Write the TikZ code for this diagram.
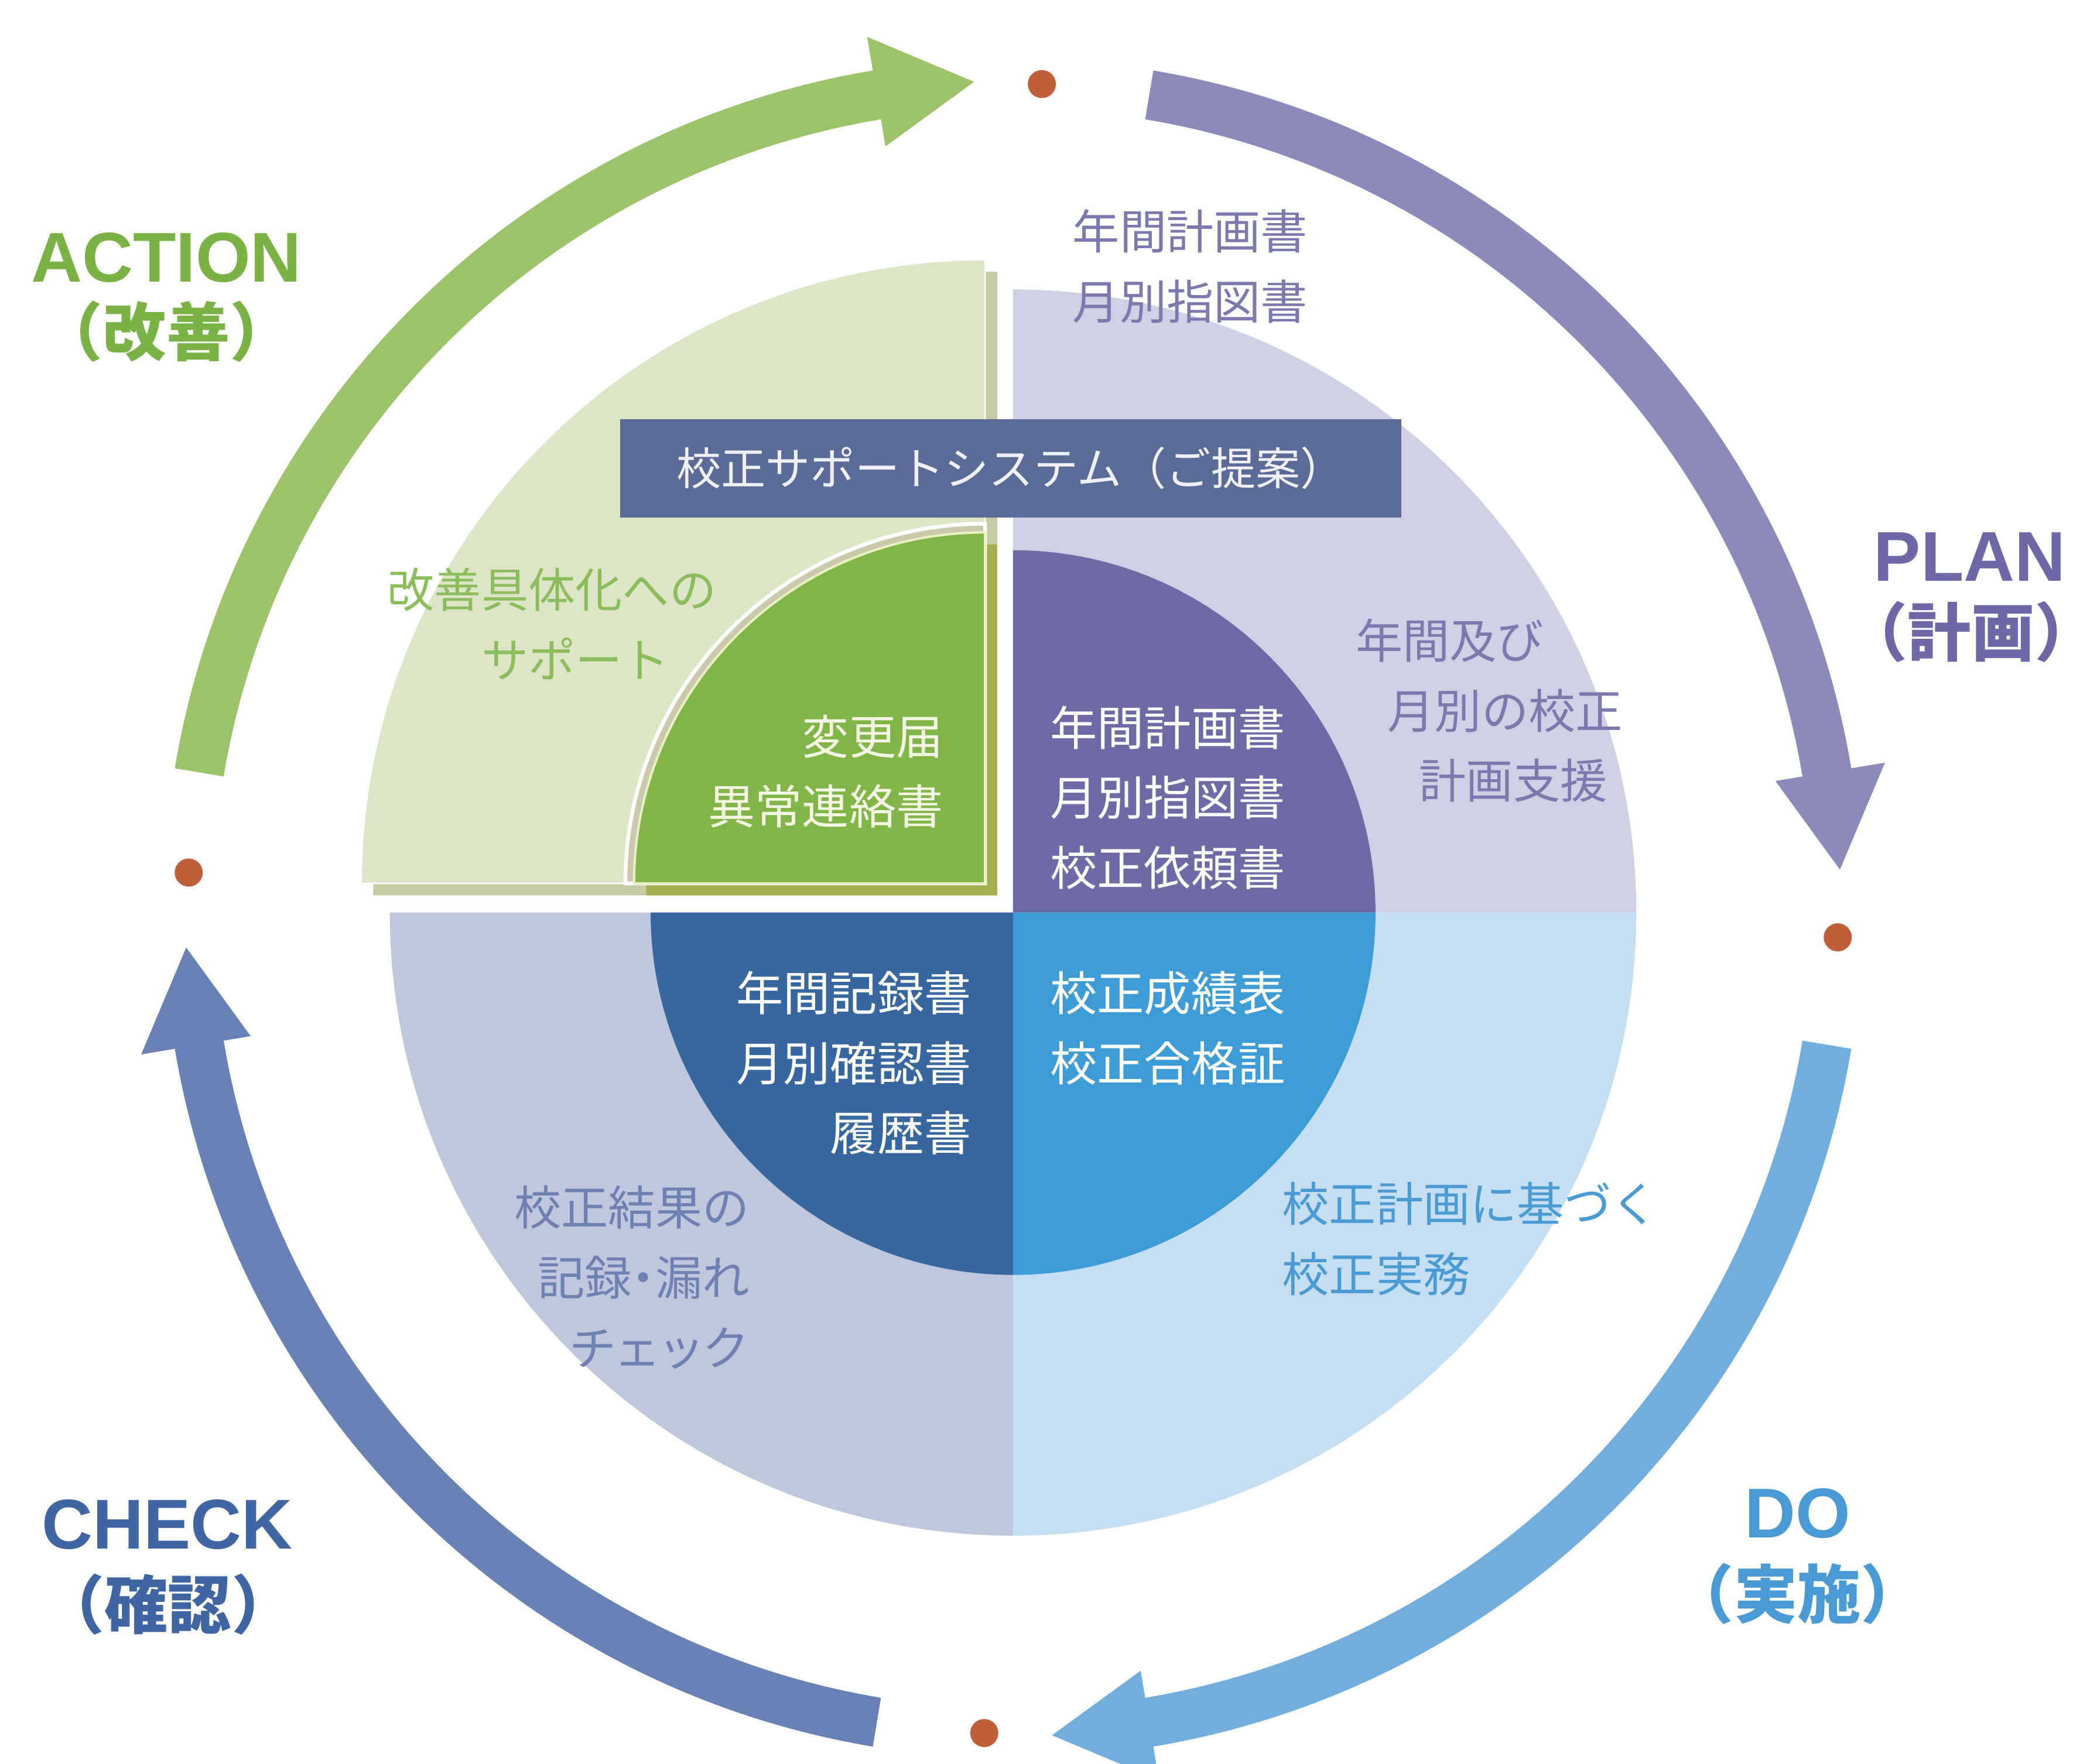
\documentclass[tikz,border=0pt]{standalone}
\usepackage{fontspec}
\setmainfont{Noto Sans CJK JP}
\newfontfamily\latinfont{Liberation Sans}
\usepackage{tikz}
\usetikzlibrary{positioning}
\definecolor{planlight}{HTML}{CFD0E4}
\definecolor{plandark}{HTML}{6E6AA6}
\definecolor{dolight}{HTML}{C5DEF2}
\definecolor{dodark}{HTML}{3D9CD5}
\definecolor{checklight}{HTML}{BEC7DC}
\definecolor{checkdark}{HTML}{38679F}
\definecolor{actlight}{HTML}{DCE6C6}
\definecolor{actshade}{HTML}{C6CBA4}
\definecolor{actdark}{HTML}{82B547}
\definecolor{actdarkshade}{HTML}{A5AF4F}
\definecolor{actbevel}{HTML}{CBC8AB}
\definecolor{actedge}{HTML}{E9F0C4}
\definecolor{bannerc}{HTML}{5A6B98}
\definecolor{bannertext}{HTML}{EEF0F5}
\definecolor{actarrowc}{HTML}{9DC36A}
\definecolor{planarrowc}{HTML}{8C89BB}
\definecolor{doarrowc}{HTML}{72AEDD}
\definecolor{checkarrowc}{HTML}{6981B5}
\definecolor{acttext}{HTML}{7AB246}
\definecolor{plantext}{HTML}{6E69A6}
\definecolor{dotext}{HTML}{4899D4}
\definecolor{checktext}{HTML}{3F66A2}
\definecolor{actsoft}{HTML}{8CBD5C}
\definecolor{plansoft}{HTML}{7C79AF}
\definecolor{dosoft}{HTML}{4A9AD4}
\definecolor{checksoft}{HTML}{6E81B2}
\definecolor{actinner}{HTML}{F2F6E2}
\definecolor{dotc}{HTML}{C0603A}
\tikzset{
  txt/.style={inner sep=0pt, font=\fontsize{10}{14.9}\selectfont},
  wtxt/.style={txt, text=white},
  phase/.style={inner sep=0pt, font=\latinfont\bfseries\fontsize{15}{18}\selectfont},
  phasejp/.style={inner sep=0pt, font=\bfseries\fontsize{13.5}{16}\selectfont},
  dot/.style={circle, fill=dotc, inner sep=0pt, minimum size=0.21cm},
  banner/.style={fill=bannerc, text=bannertext, inner sep=0pt,
    minimum width=5.845cm, minimum height=0.735cm, font=\fontsize{9.5}{12}\selectfont},
}
\begin{document}
\begin{tikzpicture}
  \useasboundingbox (-7.575,-6.365) rectangle (8.105,6.825);
  \def\ro{4.66}
  \def\ri{2.71}
  % quadrants: plan, do, check
  \fill[planlight] (0,0) -- (90:\ro) arc[start angle=90, end angle=0, radius=\ro] -- cycle;
  \fill[dolight] (0,0) -- (0:\ro) arc[start angle=0, end angle=-90, radius=\ro] -- cycle;
  \fill[checklight] (0,0) -- (-90:\ro) arc[start angle=-90, end angle=-180, radius=\ro] -- cycle;
  \fill[plandark] (0,0) -- (90:\ri) arc[start angle=90, end angle=0, radius=\ri] -- cycle;
  \fill[dodark] (0,0) -- (0:\ri) arc[start angle=0, end angle=-90, radius=\ri] -- cycle;
  \fill[checkdark] (0,0) -- (-90:\ri) arc[start angle=-90, end angle=-180, radius=\ri] -- cycle;
  % action quadrant, lifted with shadow
  \begin{scope}[shift={(-0.209,0.218)}]
    \fill[actshade] (0.09,-0.09) -- ++(180:4.665) arc[start angle=180, end angle=90, radius=4.665] -- cycle;
    \fill[actlight, draw=white, line width=0.3pt] (0,0) -- (180:4.665) arc[start angle=180, end angle=90, radius=4.665] -- cycle;
    \fill[actdarkshade] (0.09,-0.09) -- ++(180:2.625) arc[start angle=180, end angle=90, radius=2.625] -- cycle;
    \fill[actbevel, draw=white, line width=0.8pt] (0,0) -- (180:2.69) arc[start angle=180, end angle=90, radius=2.69] -- cycle;
    \fill[actdark, draw=actedge, line width=0.5pt] (0,0) -- (180:2.625) arc[start angle=180, end angle=90, radius=2.625] -- cycle;
  \end{scope}
  \node[banner] (system) at (-0.0175,3.3225) {校正サポートシステム（ご提案）};
  % texts
  \node[txt, text=plansoft, align=left] (plandocs) at (1.325,4.832) {年間計画書\\月別指図書};
  \node[txt, text=actsoft, align=left, anchor=west] (actsupport) at (-4.685,2.16) {改善具体化への\\\hspace*{2em}サポート};
  \node[txt, text=plansoft, align=left, anchor=west] (plansupport) at (2.555,1.51) {年間及び\\\hspace*{0.68em}月別の校正\\\hspace*{1.35em}計画支援};
  \node[txt, text=checksoft, align=right, anchor=east] (checksupport) at (-1.965,-2.728) {校正結果の\\記録\kern-0.25em・\kern-0.25em漏れ\\チ\kern-0.06emェ\kern-0.06emッ\kern-0.06emク};
  \node[txt, text=dosoft, align=left, anchor=west] (dosupport) at (2.005,-2.44) {校正計画に基づく\\校正実務};
  \node[wtxt, align=left, anchor=west] (planin) at (0.27,0.86) {年間計画書\\月別指図書\\校正依頼書};
  \node[txt, text=actinner, align=right, anchor=east] (actin) at (-0.515,1.055) {変更届\\異常連絡書};
  \node[wtxt, align=right, anchor=east] (checkin) at (-0.305,-1.125) {年間記録書\\月別確認書\\履歴書};
  \node[wtxt, align=left, anchor=west] (doin) at (0.27,-0.865) {校正成績表\\校正合格証};
  % cycle arrows
  \begin{scope}[shift={(0,0.03)}]
    \fill[actarrowc] (170.5:6.355) arc[start angle=170.5, end angle=99.5, radius=6.355]
      -- (99.5:6.61) -- (92.7:6.19) -- (99.5:5.78) -- (99.5:5.985)
      arc[start angle=99.5, end angle=170.5, radius=5.985] -- cycle;
    \fill[planarrowc] (80.5:6.355) arc[start angle=80.5, end angle=9.5, radius=6.355]
      -- (9.5:6.61) -- (2.7:6.19) -- (9.5:5.78) -- (9.5:5.985)
      arc[start angle=9.5, end angle=80.5, radius=5.985] -- cycle;
    \fill[doarrowc] (-9.5:6.355) arc[start angle=-9.5, end angle=-80.5, radius=6.355]
      -- (-80.5:6.61) -- (-87.3:6.19) -- (-80.5:5.78) -- (-80.5:5.985)
      arc[start angle=-80.5, end angle=-9.5, radius=5.985] -- cycle;
    \fill[checkarrowc] (-99.5:6.355) arc[start angle=-99.5, end angle=-170.5, radius=6.355]
      -- (-170.5:6.61) -- (-177.3:6.19) -- (-170.5:5.78) -- (-170.5:5.985)
      arc[start angle=-170.5, end angle=-99.5, radius=5.985] -- cycle;
    \node[dot] (dottop) at (88:6.17) {};
    \node[dot] (dotright) at (-2:6.17) {};
    \node[dot] (dotbottom) at (-92:6.17) {};
    \node[dot] (dotleft) at (177.5:6.17) {};
  \end{scope}
  % phase labels
  \node[phase, text=acttext] (action) at (-6.331,4.897) {ACTION};
  \node[phasejp, text=acttext] (actionjp) at (-6.331,4.345) {（改善）};
  \node[phase, text=plantext] (plan) at (7.153,2.659) {PLAN};
  \node[phasejp, text=plantext] (planjp) at (7.165,2.101) {（計画）};
  \node[phase, text=dotext] (do) at (5.865,-4.495) {DO};
  \node[phasejp, text=dotext] (dojp) at (5.865,-5.095) {（実施）};
  \node[phase, text=checktext] (check) at (-6.326,-4.575) {CHECK};
  \node[phasejp, text=checktext] (checkjp) at (-6.319,-5.172) {（確認）};
\end{tikzpicture}
\end{document}
